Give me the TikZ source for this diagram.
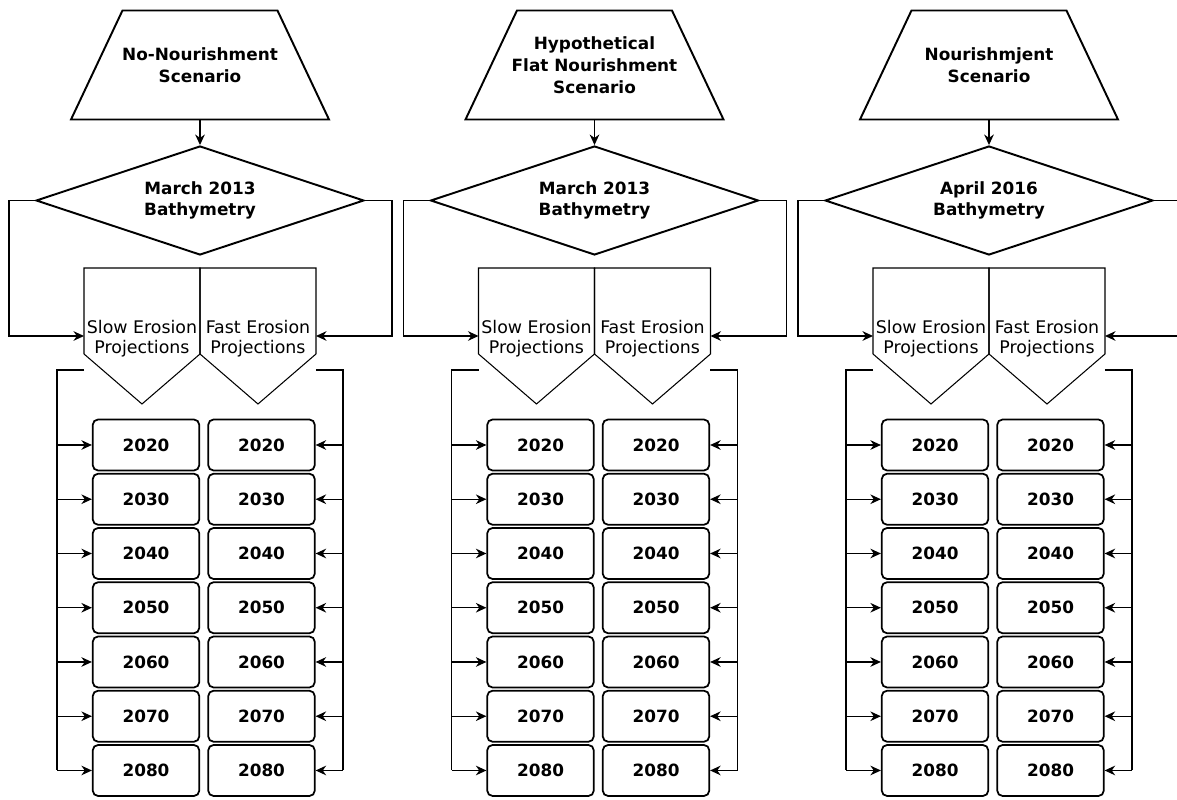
\documentclass[tikz,border=0pt]{standalone}
\usepackage{fontspec}
\setmainfont{DejaVu Sans}
\usetikzlibrary{shapes.geometric, arrows.meta, positioning}
\tikzset{
  scen/.style={rectangle,minimum width=5.16cm,minimum height=2.18cm,
               inner sep=0pt,outer sep=0pt,
               font=\bfseries\fontsize{9.6}{12.4}\selectfont,align=center},
  bath/.style={diamond,draw,line width=1.1pt,aspect=3.01,
               minimum width=6.56cm,minimum height=2.18cm,
               font=\bfseries\fontsize{9.6}{12}\selectfont,align=center,inner sep=0pt},
  proj/.style={rectangle,minimum width=2.32cm,minimum height=1.72cm,
               inner sep=0pt,outer sep=0pt},
  projtxt/.style={font=\fontsize{9.9}{11.5}\selectfont,align=center,inner sep=0pt},
  yr/.style={rectangle,draw,rounded corners=3pt,line width=1pt,
             minimum width=2.13cm,minimum height=1.02cm,
             font=\bfseries\fontsize{9.6}{12}\selectfont},
  bold/.style={line width=1.1pt},
  pen/.style={line width=0.6pt},
  ln/.style={line width=0.7pt},
  arr/.style={-{Stealth[length=6pt,width=5.5pt]},line width=0.7pt},
}
\begin{document}
\begin{tikzpicture}[x=0.02cm,y=-0.02cm,node distance=0.03cm]
  \useasboundingbox (0,0) rectangle (1177,800);
  \clip (0,0) rectangle (1177,800);
  \foreach \c/\cx/\scen/\bath in {1/200/{No-Nourishment\\Scenario}/{March 2013\\Bathymetry},
      2/594.5/{Hypothetical\\Flat Nourishment\\Scenario}/{March 2013\\Bathymetry},
      3/989/{Nourishmjent\\Scenario}/{April 2016\\Bathymetry}}{
    \begin{scope}[shift={(\cx,0)}]
      \node[scen](sc\c) at (0,65){\scen};
      \draw[bold](sc\c.south west)--(sc\c.south east)--++(-51.5,-109)--++(-155,0)--cycle;
      \node[bath](dia\c) at (0,200.5){\bath};
      \node[proj](pl\c) at (-58,311){};
      \node[proj](pr\c) at (58,311){};
      \node[projtxt](plt\c) at (-58,339){Slow Erosion\\Projections};
      \node[projtxt](prt\c) at (58,339){Fast Erosion\\Projections};
      \draw[pen](pl\c.north west)--(pl\c.north east)--(pl\c.south east)--++(-58,50)--(pl\c.south west)--cycle;
      \draw[pen](pr\c.north west)--(pr\c.north east)--(pr\c.south east)--++(-58,50)--(pr\c.south west)--cycle;
      \coordinate(inl\c) at (-116,336);
      \coordinate(inr\c) at (116,336);
      \draw[arr](sc\c)--(dia\c);
      \draw[arr](dia\c.west)--++(-26,0)|-(inl\c);
      \draw[arr](dia\c.east)--++(27,0)|-(inr\c);
      \node[yr](sl\c-2020) at (-54,445){2020};
      \node[yr](sf\c-2020) at (61.5,445){2020};
      \foreach \y [remember=\y as \q (initially 2020)] in {2030,2040,...,2080}{
        \node[yr,below=of sl\c-\q](sl\c-\y){\y};
        \node[yr,below=of sf\c-\q](sf\c-\y){\y};
      }
      \coordinate(bl\c) at (-143,370);
      \coordinate(br\c) at (143,370);
      \draw[ln](pl\c.south west |- bl\c)--(bl\c)--(bl\c |- sl\c-2080.west);
      \draw[ln](pr\c.south east |- br\c)--(br\c)--(br\c |- sf\c-2080.east);
      \foreach \y in {2020,2030,...,2080}{
        \draw[arr](bl\c |- sl\c-\y.west)--(sl\c-\y.west);
        \draw[arr](br\c |- sf\c-\y.east)--(sf\c-\y.east);
      }
    \end{scope}
  }
\end{tikzpicture}
\end{document}
